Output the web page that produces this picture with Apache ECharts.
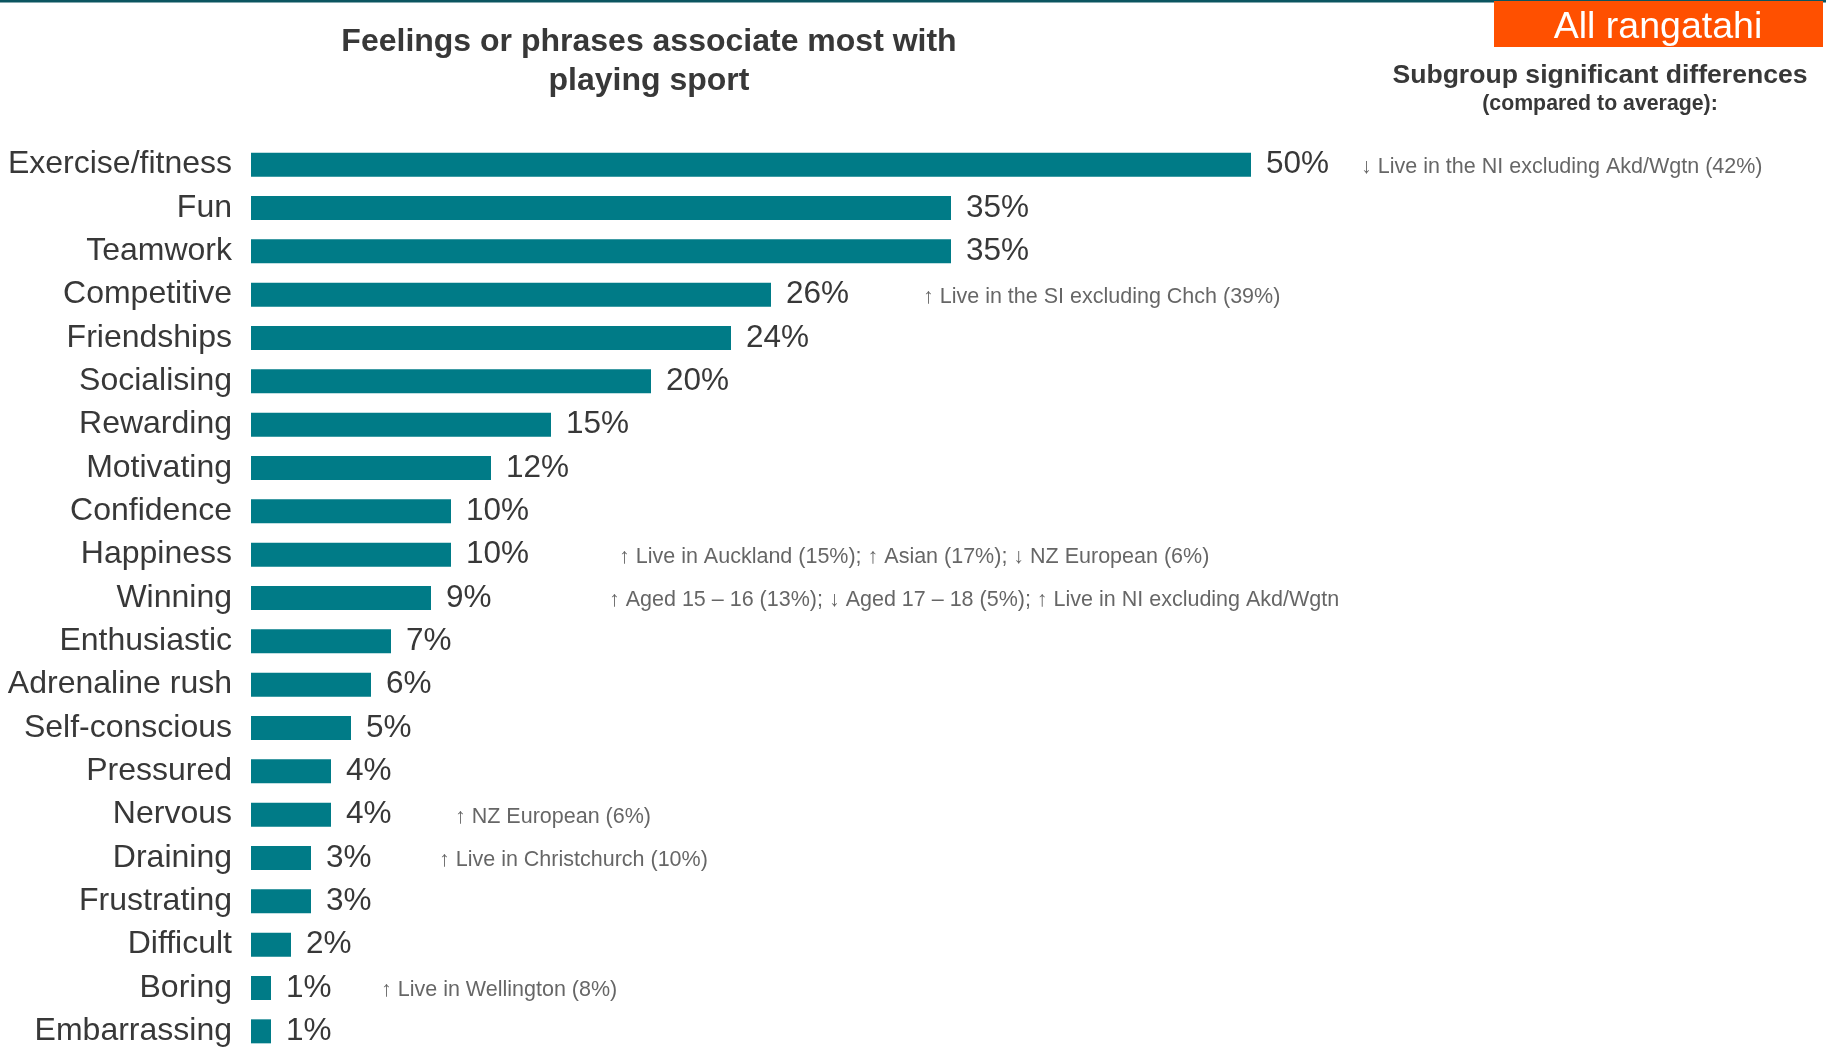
<!DOCTYPE html>
<html>
<head>
<meta charset="utf-8">
<script src="https://cdn.jsdelivr.net/npm/echarts@6/dist/echarts.min.js"></script>
<style>
html,body{margin:0;padding:0;background:#fff;}
#chart{width:1836px;height:1053px;}
</style>
</head>
<body>
<div id="chart"></div>
<script>
const categories = ["Exercise/fitness","Fun","Teamwork","Competitive","Friendships","Socialising","Rewarding","Motivating","Confidence","Happiness","Winning","Enthusiastic","Adrenaline rush","Self-conscious","Pressured","Nervous","Draining","Frustrating","Difficult","Boring","Embarrassing"];
const values = [50,35,35,26,24,20,15,12,10,10,9,7,6,5,4,4,3,3,2,1,1];
const annotationCategories = ["Exercise/fitness","Competitive","Happiness","Winning","Nervous","Draining","Boring"];
const annotationTexts = [
  "\u2193 Live in the NI excluding Akd/Wgtn (42%)",
  "\u2191 Live in the SI excluding Chch (39%)",
  "\u2191 Live in Auckland (15%); \u2191 Asian (17%); \u2193 NZ European (6%)",
  "\u2191 Aged 15 \u2013 16 (13%); \u2193 Aged 17 \u2013 18 (5%); \u2191 Live in NI excluding Akd/Wgtn",
  "\u2191 NZ European (6%)",
  "\u2191 Live in Christchurch (10%)",
  "\u2191 Live in Wellington (8%)"
];
const annotationX = [55.5, 33.6, 18.4, 17.9, 10.2, 9.4, 6.5];
const chartTitle = "Feelings or phrases associate most with\nplaying sport";
const badgeText = "All rangatahi";
const sideHeading = "Subgroup significant differences";
const sideSubheading = "(compared to average):";

const FONT = "'Liberation Sans', Arial, sans-serif";
const TXT = "#383838";
const chart = echarts.init(document.getElementById('chart'), null, {renderer:'canvas'});
chart.setOption({
  backgroundColor:'#ffffff',
  animation:false,
  textStyle:{fontFamily:FONT},
  grid:{left:251, top:143, width:1500, height:913, containLabel:false},
  xAxis:{type:'value', min:0, max:75, show:false},
  yAxis:{type:'category', inverse:true, data:categories,
    axisLine:{show:false}, axisTick:{show:false}, splitLine:{show:false},
    axisLabel:{fontSize:32, color:TXT, margin:19, fontFamily:FONT}
  },
  series:[
    {type:'bar', data:values, barWidth:24, itemStyle:{color:'#007b87'},
     label:{show:true, position:'right', distance:15, formatter:'{c}%', fontSize:31.5, color:TXT, fontFamily:FONT}},
    {type:'scatter', symbolSize:0, silent:true,
     data:annotationCategories.map((c,i)=>({value:[annotationX[i], c], text:annotationTexts[i]})),
     label:{show:true, position:'right', distance:0, offset:[0,2], fontSize:21.5, color:'#404040', fontFamily:FONT,
       formatter:p=>p.data.text}}
  ],
  graphic:[
    {type:'rect', left:0, top:0, shape:{width:1826, height:2.5}, style:{fill:'#0b5560'}},
    {type:'rect', left:1494, top:1, shape:{width:329, height:46}, style:{fill:'#ff5000'}},
    {type:'text', x:1658, y:27.5, style:{text:badgeText, fill:'#fff', font:"37.5px "+FONT, textAlign:'center', textVerticalAlign:'middle'}},
    {type:'text', x:1600, y:75.5, style:{text:sideHeading, fill:TXT, font:"bold 26.6px "+FONT, textAlign:'center', textVerticalAlign:'middle'}},
    {type:'text', x:1600, y:104.5, style:{text:sideSubheading, fill:TXT, font:"bold 21.3px "+FONT, textAlign:'center', textVerticalAlign:'middle'}},
    {type:'text', x:649, y:61.5, style:{text:chartTitle, fill:TXT, font:"bold 32px "+FONT, textAlign:'center', textVerticalAlign:'middle', lineHeight:39}}
  ]
});
</script>
</body>
</html>
